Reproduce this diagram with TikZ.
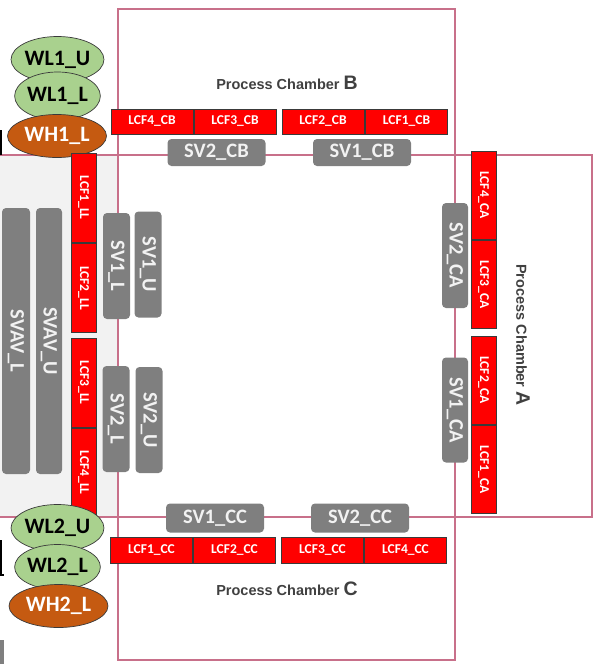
\documentclass[tikz,border=0pt]{standalone}
\usepackage{fontspec}
\setmainfont{Carlito}
\newfontfamily\pmtitlefont{Liberation Sans}
\usetikzlibrary{shapes.geometric}
\definecolor{pmRed}{HTML}{FF0000}
\definecolor{pmEdge}{HTML}{3A3A3A}
\definecolor{pmGray}{HTML}{7F7F7F}
\definecolor{pmLight}{HTML}{F2F2F2}
\definecolor{pmPink}{HTML}{C8708A}
\definecolor{pmGreen}{HTML}{A9D18E}
\definecolor{pmOrange}{HTML}{C55A11}
\definecolor{pmText}{HTML}{404040}
\tikzset{
  pm wall/.style={draw=pmPink, line width=1.4pt},
  pm lcf/.style={rectangle, draw=pmEdge, fill=pmRed, line width=0.7pt, inner sep=0pt, text=white, font=\bfseries\fontsize{13.5}{13.5}\selectfont, minimum width=82pt, minimum height=25pt},
  pm lcf v/.style={pm lcf, rotate=-90, minimum width=89pt, minimum height=25pt},
  pm valve/.style={rectangle, rounded corners=4pt, fill=pmGray, inner sep=0pt, text=pmLight, font=\bfseries\fontsize{20.5}{20.5}\selectfont, minimum width=98pt, minimum height=28pt},
  pm valve v/.style={pm valve, rotate=-90, minimum width=106pt, minimum height=27pt},
  pm wafer/.style={ellipse, draw=pmEdge, fill=pmGreen, line width=0.7pt, inner sep=0pt, text=black, font=\bfseries\fontsize{22}{22}\selectfont, minimum width=85pt, minimum height=46pt},
  pm heater/.style={pm wafer, fill=pmOrange, text=white, minimum width=99pt, minimum height=43pt},
  pm title/.style={font=\pmtitlefont\bfseries\fontsize{14.5}{15}\selectfont, text=pmText},
}
\newcommand{\pmbig}[1]{{\fontsize{19.5}{19.5}\selectfont #1}}

\begin{document}
\begin{tikzpicture}[x=1pt, y=-1pt]
  \useasboundingbox (0,0) rectangle (595,664);

  % walls of load lock, transfer chamber and process chambers
  \fill[pmLight] (0,155) rectangle (118,517);
  \draw[pm wall] (118,9) rectangle (455,155);
  \draw[pm wall] (118,155) rectangle (455,517);
  \draw[pm wall] (455,155) rectangle (592,517);
  \draw[pm wall] (118,517) rectangle (455,660);
  \draw[pm wall] (0,155) -- (118,155);
  \draw[pm wall] (0,517) -- (118,517);

  % cut-off pieces at the left edge
  \draw[black, line width=1.2pt] (1,130) -- (1,155);
  \draw[black, line width=1.2pt] (1,540) -- (1,575) -- (4,575);
  \fill[pmGray] (0,640) rectangle (4,664);

  % upper wafer stack
  \node[pm wafer] (wl1u) at (57.5,59.5) {WL1\_U};
  \node[pm wafer, minimum height=48pt] (wl1l) at (57.5,96) {WL1\_L};
  \node[pm heater] (wh1l) at (57,136) {WH1\_L};

  % load lock valves
  \node[pm valve v, minimum width=266pt, minimum height=28pt] (svavl) at (16,341) {SVAV\_L};
  \node[pm valve v, minimum width=266pt, minimum height=26pt] (svavu) at (49,341) {SVAV\_U};
  \node[pm valve v] (sv1l) at (116.5,266) {SV1\_L};
  \node[pm valve v] (sv1u) at (148,264.5) {SV1\_U};
  \node[pm valve v] (sv2l) at (116,419) {SV2\_L};
  \node[pm valve v] (sv2u) at (149,420) {SV2\_U};
  \foreach \n/\y in {1/197.5,2/288,3/382.5,4/472.5} {
    \node[pm lcf v] (lcf\n ll) at (83.5,\y) {LCF\n\_LL};
  }

  % lower wafer stack
  \node[pm wafer, minimum height=47pt] (wl2u) at (57.5,528) {WL2\_U};
  \node[pm wafer, minimum height=45pt] (wl2l) at (57.5,567) {WL2\_L};
  \node[pm heater] (wh2l) at (58.5,606) {WH2\_L};

  % Process Chamber B
  \node[pm title] (pcb) at (287,83) {Process Chamber \pmbig{B}};
  \foreach \n/\x in {4/152,3/235,2/323,1/406.5} {
    \node[pm lcf] (lcf\n cb) at (\x,121.5) {LCF\n\_CB};
  }
  \node[pm valve, minimum height=27pt] (sv2cb) at (216.5,152.5) {SV2\_CB};
  \node[pm valve, minimum height=27pt] (sv1cb) at (362,152.5) {SV1\_CB};

  % Process Chamber A
  \node[pm title, rotate=-90] (pca) at (523,335) {Process Chamber \pmbig{A}};
  \node[pm valve v, minimum width=105pt, minimum height=26pt] (sv2ca) at (455,255.5) {SV2\_CA};
  \node[pm valve v, minimum width=105pt, minimum height=26pt] (sv1ca) at (455,410) {SV1\_CA};
  \foreach \n/\y in {4/195,3/284.5,2/380,1/469.5} {
    \node[pm lcf v, minimum width=88pt] (lcf\n ca) at (483.5,\y) {LCF\n\_CA};
  }

  % Process Chamber C
  \node[pm valve, minimum height=29pt] (sv1cc) at (215,518) {SV1\_CC};
  \node[pm valve, minimum height=29pt] (sv2cc) at (360,518) {SV2\_CC};
  \foreach \n/\x in {1/151.5,2/234.5,3/322.5,4/405.5} {
    \node[pm lcf, minimum height=26pt] (lcf\n cc) at (\x,550.5) {LCF\n\_CC};
  }
  \node[pm title] (pcc) at (287,589) {Process Chamber \pmbig{C}};
\end{tikzpicture}
\end{document}
